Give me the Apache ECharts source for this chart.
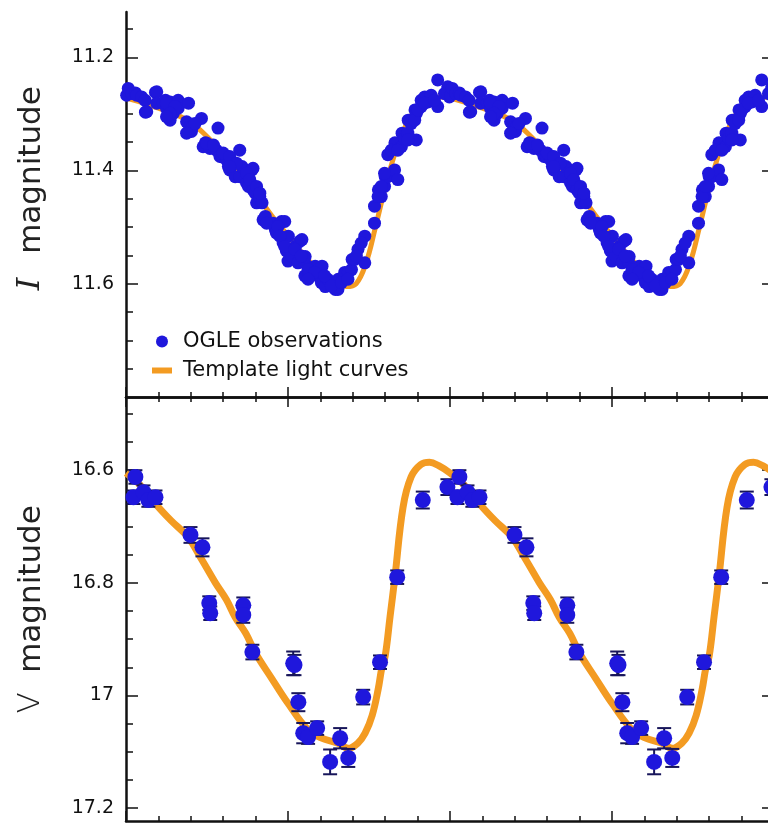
<!DOCTYPE html>
<html>
<head>
<meta charset="utf-8">
<script src="https://cdn.jsdelivr.net/npm/echarts@6/dist/echarts.min.js"></script>
<style>
html,body{margin:0;padding:0;background:#fff;}
#chartmain{width:768px;height:823px;}
</style>
</head>
<body>
<div id="chartmain"></div>
<script>
// I band observations, one cycle [phase, mag]
var iObs = [
  [0.002,11.267],[0.007,11.255],[0.018,11.264],[0.029,11.263],[0.033,11.267],[0.048,11.270],
  [0.059,11.276],[0.060,11.297],[0.064,11.296],[0.091,11.262],[0.095,11.261],[0.095,11.281],
  [0.115,11.281],[0.122,11.276],[0.125,11.290],[0.136,11.279],[0.136,11.311],[0.143,11.293],
  [0.146,11.299],[0.161,11.276],[0.161,11.290],[0.187,11.314],[0.193,11.281],[0.197,11.323],
  [0.202,11.331],[0.205,11.323],[0.233,11.308],[0.238,11.358],[0.245,11.351],[0.259,11.361],
  [0.266,11.358],[0.279,11.364],[0.284,11.325],[0.290,11.375],[0.297,11.376],[0.310,11.381],
  [0.316,11.393],[0.320,11.399],[0.331,11.387],[0.337,11.411],[0.351,11.364],[0.351,11.411],
  [0.358,11.393],[0.372,11.422],[0.378,11.428],[0.389,11.399],[0.392,11.396],[0.392,11.434],
  [0.399,11.440],[0.403,11.457],[0.413,11.446],[0.420,11.457],[0.423,11.487],[0.430,11.481],
  [0.454,11.493],[0.461,11.504],[0.464,11.510],[0.480,11.490],[0.485,11.528],[0.490,11.490],
  [0.495,11.542],[0.500,11.560],[0.501,11.516],[0.511,11.551],[0.523,11.534],[0.531,11.563],
  [0.536,11.525],[0.543,11.522],[0.552,11.563],[0.553,11.552],[0.552,11.586],[0.564,11.580],
  [0.572,11.575],[0.584,11.569],[0.593,11.575],[0.594,11.587],[0.603,11.598],[0.605,11.569],
  [0.615,11.605],[0.623,11.592],[0.644,11.598],[0.646,11.610],[0.654,11.610],[0.655,11.592],
  [0.675,11.580],[0.686,11.580],[0.696,11.575],[0.698,11.557],[0.706,11.557],[0.716,11.539],
  [0.737,11.516],[0.737,11.563],[0.767,11.493],[0.767,11.463],[0.779,11.434],[0.788,11.446],
  [0.798,11.428],[0.800,11.411],[0.808,11.411],[0.808,11.372],[0.829,11.399],[0.830,11.351],
  [0.839,11.416],[0.850,11.358],[0.852,11.334],[0.860,11.343],[0.870,11.334],[0.871,11.311],
  [0.880,11.317],[0.892,11.293],[0.896,11.346],[0.896,11.299],[0.911,11.287],[0.911,11.276],
  [0.922,11.270],[0.932,11.279],[0.942,11.267],[0.962,11.287],[0.962,11.240],[0.993,11.252],
  [0.998,11.270],
  [0.125,11.281],[0.151,11.287],[0.136,11.299],[0.125,11.305],[0.213,11.317],[0.187,11.334],
  [0.249,11.352],[0.270,11.355],[0.300,11.369],[0.320,11.375],[0.341,11.387],[0.320,11.393],
  [0.372,11.405],[0.382,11.416],[0.403,11.428],[0.413,11.440],[0.434,11.493],[0.469,11.499],
  [0.475,11.516],[0.490,11.534],[0.521,11.539],[0.541,11.551],[0.562,11.575],[0.582,11.580],
  [0.562,11.592],[0.613,11.586],[0.634,11.604],[0.665,11.598],[0.685,11.592],[0.711,11.551],
  [0.726,11.528],[0.778,11.446],[0.788,11.428],[0.798,11.405],[0.819,11.364],[0.839,11.364],
  [0.870,11.346],[0.891,11.311],[0.901,11.293],[0.921,11.281],[0.952,11.276],[0.983,11.264]
];

// I band template, one cycle
var iTemplate = [
  [0.00,11.272],[0.05,11.280],[0.10,11.290],[0.15,11.300],[0.20,11.315],[0.25,11.340],
  [0.30,11.370],[0.35,11.400],[0.40,11.440],[0.45,11.480],[0.50,11.515],[0.55,11.550],
  [0.60,11.580],[0.65,11.600],[0.68,11.605],[0.71,11.600],[0.74,11.565],[0.77,11.500],
  [0.80,11.430],[0.83,11.370],[0.86,11.325],[0.89,11.295],[0.93,11.278],[0.97,11.270],
  [1.00,11.272]
];

// V band observations, one cycle [phase, mag, error]
var vObs = [
  [0.916,16.653,0.015],[0.992,16.630,0.014],[0.029,16.612,0.012],[0.023,16.648,0.012],
  [0.054,16.639,0.012],[0.069,16.653,0.012],[0.091,16.648,0.012],[0.199,16.715,0.014],
  [0.236,16.737,0.016],[0.257,16.836,0.012],[0.260,16.854,0.012],[0.362,16.840,0.014],
  [0.362,16.857,0.014],[0.390,16.923,0.013],[0.516,16.943,0.021],[0.520,16.946,0.018],
  [0.532,17.012,0.016],[0.547,17.067,0.018],[0.562,17.074,0.012],[0.590,17.058,0.012],
  [0.630,17.118,0.022],[0.661,17.076,0.018],[0.686,17.111,0.016],[0.732,17.003,0.013],
  [0.784,16.941,0.012],[0.837,16.790,0.012]
];

// V band template, one cycle
var vTemplate = [
  [0.00,16.605],[0.05,16.630],[0.09,16.659],[0.14,16.690],[0.19,16.718],[0.23,16.755],
  [0.276,16.800],[0.31,16.830],[0.337,16.861],[0.37,16.890],[0.40,16.925],[0.45,16.970],
  [0.50,17.014],[0.56,17.060],[0.60,17.075],[0.655,17.085],[0.686,17.094],[0.715,17.085],
  [0.738,17.067],[0.76,17.035],[0.778,16.990],[0.79,16.950],[0.80,16.930],[0.815,16.860],
  [0.83,16.790],[0.855,16.666],[0.88,16.612],[0.91,16.590],[0.937,16.586],[0.965,16.592],
  [1.00,16.605]
];

// tick values
var iMajor = [11.2, 11.4, 11.6];
var iMinor = [11.15, 11.25, 11.3, 11.35, 11.45, 11.5, 11.55, 11.65, 11.7, 11.75];
var vMajor = [16.6, 16.8, 17, 17.2];
var vMinor = [16.5, 16.55, 16.65, 16.7, 16.75, 16.85, 16.9, 16.95, 17.05, 17.1, 17.15];
var cycles = [0, 1];

var blue = '#1f17dc';
var orange = '#f39b22';
var ink = '#111';

// phase plots show the folded curve twice
function twoCycles(arr) {
  var out = [];
  cycles.forEach(function (k) {
    arr.forEach(function (d) { out.push([d[0] + k, d[1]]); });
  });
  return out;
}
function twoCyclesErr(arr) {
  var out = [];
  cycles.forEach(function (k) {
    arr.forEach(function (d) { out.push([d[0] + k, d[1] - d[2], d[1] + d[2]]); });
  });
  return out;
}

function xAx(grid, pos) {
  return {
    type: 'value', gridIndex: grid, position: pos, min: 0, max: 2, interval: 0.5,
    axisLine: { show: true, onZero: false, lineStyle: { color: ink, width: 2.5 } },
    axisTick: { show: true, inside: true, length: 10, lineStyle: { color: ink, width: 1.5 } },
    minorTick: { show: true, splitNumber: 5, length: 5, lineStyle: { color: ink, width: 1.5 } },
    axisLabel: { show: false }, splitLine: { show: false }
  };
}
function yAx(grid, pos, lo, hi, ticks, len, labels, line) {
  return {
    type: 'value', gridIndex: grid, position: pos, min: lo, max: hi, inverse: true,
    axisLine: { show: line, onZero: false, lineStyle: { color: ink, width: 2.5 } },
    axisTick: { show: true, inside: true, length: len, customValues: ticks,
      lineStyle: { color: ink, width: 1.5 } },
    axisLabel: { show: labels, customValues: ticks, margin: 12, color: ink,
      fontFamily: 'DejaVu Sans', fontSize: 19 },
    splitLine: { show: false }
  };
}

var option = {
  animation: false,
  backgroundColor: '#fff',
  grid: [
    { left: 126, top: 12, width: 648, height: 385, outerBoundsMode: 'none' },
    { left: 126, top: 397, width: 648, height: 424, outerBoundsMode: 'none' }
  ],
  xAxis: [xAx(0, 'bottom'), xAx(1, 'top'), xAx(1, 'bottom')],
  yAxis: [
    yAx(0, 'left', 11.12, 11.8, iMajor, 12, true, true),
    yAx(0, 'left', 11.12, 11.8, iMinor, 7, false, false),
    yAx(0, 'right', 11.12, 11.8, iMajor, 12, false, false),
    yAx(1, 'left', 16.47, 17.223, vMajor, 12, true, true),
    yAx(1, 'left', 16.47, 17.223, vMinor, 7, false, false),
    yAx(1, 'right', 16.47, 17.223, vMajor, 12, false, false)
  ],
  legend: {
    left: 147, top: 326, orient: 'vertical', itemWidth: 20, itemHeight: 12, itemGap: 8,
    data: [
      { name: 'OGLE observations', icon: 'circle' },
      { name: 'Template light curves', icon: 'path://M0,0L20,0L20,6L0,6Z' }
    ],
    textStyle: { fontFamily: 'DejaVu Sans', fontSize: 21, color: ink, padding: [0, 0, 0, 6] }
  },
  graphic: [
    { type: 'text', x: 32, y: 170, rotation: Math.PI / 2,
      style: { text: 'magnitude', font: '31px "DejaVu Sans"', fill: '#222',
        textAlign: 'center', textVerticalAlign: 'middle' } },
    { type: 'text', x: 31, y: 284, rotation: Math.PI / 2,
      style: { text: 'I', font: 'italic 32px "DejaVu Serif"', fill: '#222',
        textAlign: 'center', textVerticalAlign: 'middle' } },
    { type: 'text', x: 32, y: 589, rotation: Math.PI / 2,
      style: { text: 'magnitude', font: '31px "DejaVu Sans"', fill: '#222',
        textAlign: 'center', textVerticalAlign: 'middle' } },
    { type: 'text', x: 31, y: 703, rotation: Math.PI / 2,
      style: { text: 'V', font: '200 31px "DejaVu Sans"', fill: '#222',
        textAlign: 'center', textVerticalAlign: 'middle' } }
  ],
  series: [
    {
      name: 'Template light curves', type: 'line', xAxisIndex: 0, yAxisIndex: 0,
      data: twoCycles(iTemplate), smooth: 0.4, showSymbol: false, symbol: 'none',
      lineStyle: { color: orange, width: 5 }, itemStyle: { color: orange }, z: 2
    },
    {
      name: 'OGLE observations', type: 'scatter', xAxisIndex: 0, yAxisIndex: 0,
      data: twoCycles(iObs), symbolSize: 13, clip: false,
      itemStyle: { color: blue, opacity: 1 }, z: 3
    },
    {
      name: 'Template light curves', type: 'line', xAxisIndex: 2, yAxisIndex: 3,
      data: twoCycles(vTemplate), smooth: 0.4, showSymbol: false, symbol: 'none',
      lineStyle: { color: orange, width: 7 }, itemStyle: { color: orange }, z: 2
    },
    {
      name: 'V errors', type: 'custom', xAxisIndex: 2, yAxisIndex: 3,
      data: twoCyclesErr(vObs), encode: { x: 0, y: [1, 2] }, z: 3,
      renderItem: function (params, api) {
        var x = api.value(0);
        var a = api.coord([x, api.value(1)]);
        var b = api.coord([x, api.value(2)]);
        var w = 7;
        var st = { stroke: '#17155a', lineWidth: 2 };
        return {
          type: 'group', children: [
            { type: 'line', shape: { x1: a[0], y1: a[1], x2: b[0], y2: b[1] }, style: st },
            { type: 'line', shape: { x1: a[0] - w, y1: a[1], x2: a[0] + w, y2: a[1] }, style: st },
            { type: 'line', shape: { x1: b[0] - w, y1: b[1], x2: b[0] + w, y2: b[1] }, style: st }
          ]
        };
      }
    },
    {
      name: 'OGLE observations', type: 'scatter', xAxisIndex: 2, yAxisIndex: 3,
      data: twoCycles(vObs), symbolSize: 16, clip: false,
      itemStyle: { color: blue, opacity: 1 }, z: 4
    }
  ]
};

var myChart = echarts.init(document.getElementById('chartmain'));
myChart.setOption(option);
</script>
</body>
</html>
